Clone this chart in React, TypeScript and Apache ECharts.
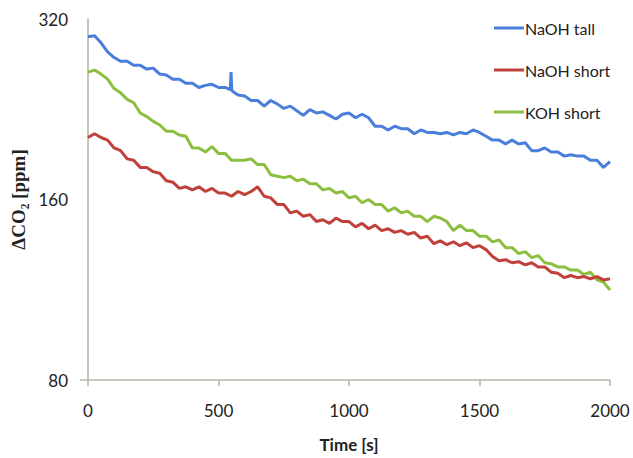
import React, { useEffect, useRef } from "react";
import * as echarts from "echarts";

const times: number[] = [
  0, 25, 50, 75, 100, 125, 150, 175, 200, 225, 250, 275, 300, 325, 350, 375, 400, 425, 450, 475,
  500, 525, 550, 575, 600, 625, 650, 675, 700, 725, 750, 775, 800, 825, 850, 875, 900, 925, 950, 975,
  1000, 1025, 1050, 1075, 1100, 1125, 1150, 1175, 1200, 1225, 1250, 1275, 1300, 1325, 1350, 1375, 1400, 1425, 1450, 1475,
  1500, 1525, 1550, 1575, 1600, 1625, 1650, 1675, 1700, 1725, 1750, 1775, 1800, 1825, 1850, 1875, 1900, 1925, 1950, 1975,
  2000,
];

const naohTall: number[] = [
  299, 300, 292, 282, 276, 272, 272, 268, 268, 264, 265, 259, 258, 254, 254, 250, 250, 246, 248, 249,
  246, 246, 243, 239, 238, 234, 234, 229, 234, 231, 227, 229, 225, 221, 226, 223, 224, 221, 218, 222,
  223, 219, 222, 219, 212, 212, 209, 212, 210, 210, 206, 209, 207, 207, 206, 207, 205, 207, 206, 209,
  207, 204, 201, 201, 198, 201, 198, 199, 193, 193, 195, 192, 192, 189, 190, 189, 189, 186, 186, 181,
  185,
];

const naohShort: number[] = [
  203, 206, 203, 201, 195, 193, 187, 186, 181, 181, 178, 177, 172, 171, 167, 168, 166, 168, 165, 167,
  164, 164, 162, 165, 163, 165, 168, 162, 161, 157, 157, 152, 153, 150, 151, 147, 148, 146, 149, 147,
  147, 144, 146, 143, 145, 142, 143, 141, 142, 140, 141, 138, 139, 135, 136.5, 134.5, 136, 134, 135.5, 133,
  134, 132, 128.5, 126.5, 127, 125.5, 126, 124.5, 125.5, 123.5, 123.5, 121, 120.5, 118.5, 119.5, 118.5, 119, 118, 119, 117.5,
  118,
];

const kohShort: number[] = [
  261, 263, 259, 254, 245, 241, 235, 232, 223, 220, 216, 213, 208, 208, 205, 204, 195, 195, 192, 196,
  191, 191, 186, 186, 186, 187, 183, 183, 176, 175, 174, 175, 172, 173, 170, 170, 166, 167, 164, 165,
  161, 162, 158, 160, 157, 157, 153, 155, 152, 153, 150, 150, 147, 150, 149, 147, 142, 145, 142, 142,
  139, 139, 136, 137, 133, 133, 130, 131, 128, 129, 125.5, 125, 123.5, 123.5, 122, 122, 120, 121, 117.5, 116.5,
  113,
];

// narrow spike in the NaOH tall trace near t = 548 s
const spikeTimes: number[] = [545, 548, 551];
const spikeValues: number[] = [244, 261, 243];

const seriesNames = ["NaOH tall", "NaOH short", "KOH short"];
const colors = ["#4A7EDB", "#C0403A", "#8CBF3F"];
const yTicks = [80, 160, 320];
const xTicks = [0, 500, 1000, 1500, 2000];

function pairs(t: number[], v: number[]): [number, number][] {
  return t.map((x, i) => [x, v[i]]);
}

function blueWithSpike(): [number, number][] {
  const base = pairs(times, naohTall);
  const spike = pairs(spikeTimes, spikeValues);
  const out: [number, number][] = [];
  for (const p of base) {
    if (p[0] === 550) {
      out.push(...spike);
      continue;
    }
    out.push(p);
  }
  return out;
}

export default function App() {
  const ref = useRef<HTMLDivElement>(null);
  useEffect(() => {
    if (!ref.current) return;
    const chart = echarts.init(ref.current, null, { renderer: "svg" });
    const font = "Lato, 'Open Sans', sans-serif";
    const axisColor = "#B5B5A8";
    chart.setOption({
      animation: false,
      backgroundColor: "#ffffff",
      grid: { left: 88, right: 23, top: 19, bottom: 78, containLabel: false, outerBoundsMode: "none" },
      legend: {
        orient: "vertical",
        left: 489,
        top: 15,
        itemGap: 26,
        itemWidth: 30,
        itemHeight: 3,
        icon: "rect",
        data: seriesNames,
        textStyle: { fontFamily: font, fontSize: 16, color: "#222", padding: [0, 0, 0, -4] },
      },
      xAxis: {
        type: "value",
        min: xTicks[0],
        max: xTicks[xTicks.length - 1],
        interval: 500,
        name: "Time [s]",
        nameLocation: "middle",
        nameGap: 56,
        nameTextStyle: { fontFamily: font, fontSize: 17, fontWeight: "bold", color: "#222" },
        axisLine: { lineStyle: { color: axisColor, width: 1.5 } },
        axisTick: { show: true, length: 6, lineStyle: { color: axisColor, width: 1.5 } },
        axisLabel: { fontFamily: font, fontSize: 17, color: "#222", margin: 22, formatter: (v: number) => String(v) },
        splitLine: { show: false },
      },
      yAxis: {
        type: "log",
        logBase: 2,
        min: yTicks[0],
        max: yTicks[yTicks.length - 1],
        name: "ΔCO₂ [ppm]",
        nameLocation: "middle",
        nameGap: 60,
        nameTextStyle: { fontFamily: "'Liberation Serif', serif", fontSize: 19, fontWeight: "bold", color: "#222" },
        axisLine: { show: true, lineStyle: { color: axisColor, width: 1.5 } },
        axisTick: {
          show: true,
          length: 8,
          customValues: [yTicks[0]],
          lineStyle: { color: axisColor, width: 1.5 },
        },
        axisLabel: {
          fontFamily: font,
          fontSize: 17,
          color: "#222",
          margin: 20,
          customValues: yTicks,
          formatter: (v: number) => String(Math.round(v)),
        },
        splitLine: { show: false },
      },
      series: [
        { name: seriesNames[0], type: "line", data: blueWithSpike() },
        { name: seriesNames[1], type: "line", data: pairs(times, naohShort) },
        { name: seriesNames[2], type: "line", data: pairs(times, kohShort) },
      ].map((s, i) => ({
        ...s,
        showSymbol: false,
        symbol: "none",
        color: colors[i],
        lineStyle: { color: colors[i], width: 3 },
        z: 3 - i,
      })),
    });
    return () => chart.dispose();
  }, []);
  return <div ref={ref} style={{ width: 633, height: 458, position: "absolute", left: 0, top: 0 }} />;
}
